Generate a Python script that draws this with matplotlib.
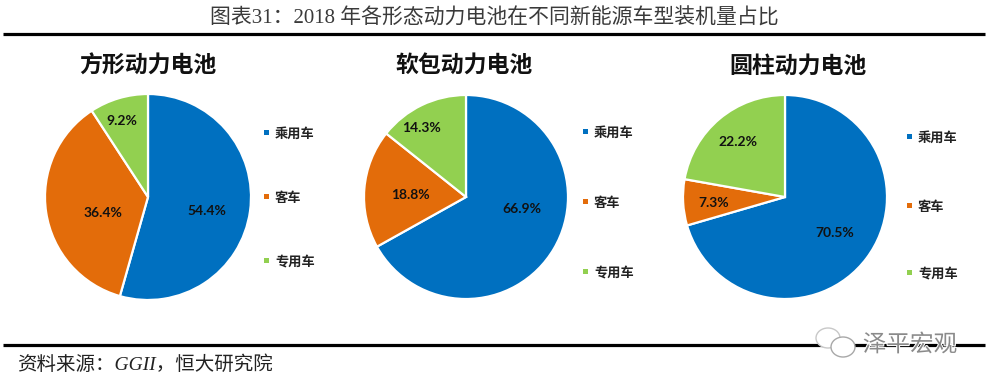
import matplotlib
matplotlib.use("Agg")
import matplotlib.pyplot as plt
import matplotlib.patheffects as pe
from matplotlib.patches import Ellipse, Rectangle

CJK = "Noto Sans CJK SC"
TITLE = "图表31：2018 年各形态动力电池在不同新能源车型装机量占比"
SOURCE = "资料来源：GGII，恒大研究院"
WATERMARK = "泽平宏观"

categories = ["乘用车", "客车", "专用车"]
pie_titles = ["方形动力电池", "软包动力电池", "圆柱动力电池"]
prismatic = [54.4, 36.4, 9.2]
pouch = [66.9, 18.8, 14.3]
cylindrical = [70.5, 7.3, 22.2]
colors = ["#0070C0", "#E36C0A", "#92D050"]

W, H = 988, 384
fig = plt.figure(figsize=(W / 100, H / 100), dpi=100, facecolor="white")
ov = fig.add_axes([0, 0, 1, 1], zorder=5)
ov.set_xlim(0, W)
ov.set_ylim(H, 0)
ov.axis("off")
ov.patch.set_alpha(0)

panels = [
    dict(vals=prismatic, c=(148, 197), r=103, tx=148,
         lab=[(207, 211), (103, 213), (122, 121)],
         lx=266, ly=[132, 196, 260]),
    dict(vals=pouch, c=(466, 197), r=102, tx=464,
         lab=[(522, 209), (410, 195), (421, 128)],
         lx=585, ly=[131, 201, 271]),
    dict(vals=cylindrical, c=(785, 197), r=102, tx=798,
         lab=[(835, 233), (714, 203), (738, 142)],
         lx=909, ly=[136, 205, 272]),
]

for name, p in zip(pie_titles, panels):
    cx, cy = p["c"]
    r = p["r"]
    ax = fig.add_axes([(cx - r - 2) / W, 1 - (cy + r + 2) / H, (2 * r + 4) / W, (2 * r + 4) / H])
    ax.pie(p["vals"], colors=colors, startangle=90, counterclock=False, radius=1,
           wedgeprops=dict(edgecolor="white", linewidth=1.6))
    ax.set_xlim(-(r + 2) / r, (r + 2) / r)
    ax.set_ylim(-(r + 2) / r, (r + 2) / r)
    ov.text(p["tx"], 66, name, family=CJK, fontsize=16.5, fontweight="bold",
            color="#111111", ha="center", va="center")
    for v, (x, y) in zip(p["vals"], p["lab"]):
        ov.text(x, y, f"{v:.1f}%", family="Lato", fontweight="bold", fontsize=10,
                color="#111111", ha="center", va="center")
    for cat, col, y in zip(categories, colors, p["ly"]):
        ov.add_patch(Rectangle((p["lx"] - 2.5, y - 2.5), 5, 5, color=col, lw=0))
        ov.text(p["lx"] + 9, y + 2, cat, family=CJK, fontsize=9.5, fontweight="bold",
                color="#222222", ha="left", va="center")

ov.text(494, 19, TITLE, family=["Liberation Serif", CJK], fontsize=15,
        color="#3a3a3a", ha="center", va="center")
for y in (34, 345):
    ov.plot([3, 985], [y, y], color="black", lw=2.3, solid_capstyle="butt")
ov.text(17, 365, SOURCE, family=["Liberation Serif", CJK], style="italic", fontsize=14,
        color="#222222", ha="left", va="center")

# watermark
ov.add_patch(Ellipse((828, 338), 24, 20, fc="white", ec="#c8c8c8", lw=1, zorder=6))
ov.add_patch(Ellipse((843, 347), 24, 20, fc="white", ec="#a8a8a8", lw=1, zorder=7))
ov.text(910, 345, WATERMARK, family=CJK, fontsize=17, color="#8a8a8a", ha="center",
        va="center", zorder=8,
        path_effects=[pe.withStroke(linewidth=1.5, foreground="white")])

fig.savefig("out.png", dpi=100, facecolor="white")
